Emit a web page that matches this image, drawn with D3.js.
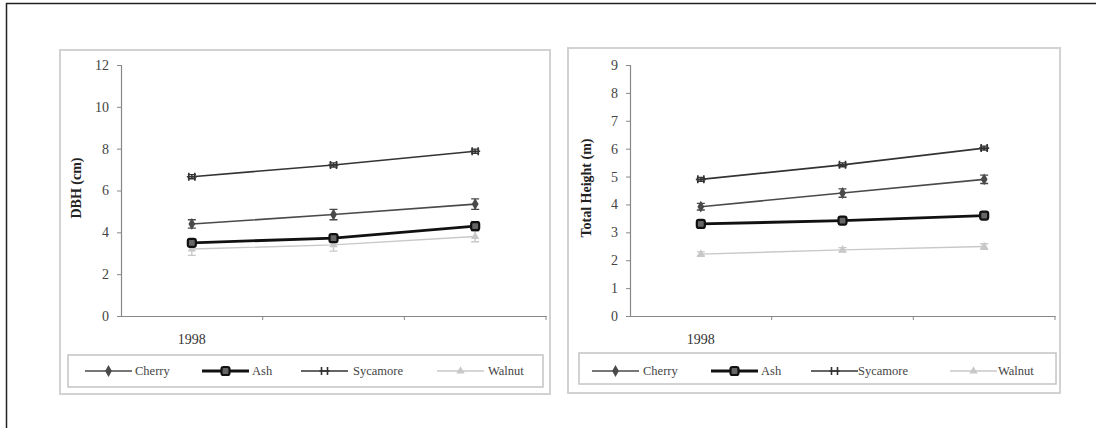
<!DOCTYPE html>
<html><head><meta charset="utf-8">
<script src="https://cdn.jsdelivr.net/npm/d3@7"></script>
<style>body{margin:0;background:#fff}svg{display:block}svg text{font-family:"Liberation Serif","DejaVu Serif",serif}</style>
</head><body><svg id="c" width="1096" height="428"></svg>
<script>
const categories = ["1998", "1999", "2000"];
const tickLabels = ["1998", "", ""];
const species = ["Cherry", "Ash", "Sycamore", "Walnut"];
// DBH (cm)
const dbhCherry = [4.4, 4.85, 5.35];
const dbhAsh = [3.5, 3.72, 4.3];
const dbhSycamore = [6.66, 7.22, 7.88];
const dbhWalnut = [3.2, 3.4, 3.8];
const dbhErrCherry = [0.2, 0.25, 0.25];
const dbhErrAsh = [0.15, 0.15, 0.2];
const dbhErrSycamore = [0.1, 0.1, 0.1];
const dbhErrWalnut = [0.3, 0.3, 0.25];
const dbhTicks = [0, 2, 4, 6, 8, 10, 12];
// Total height (m)
const htCherry = [3.92, 4.41, 4.9];
const htAsh = [3.3, 3.42, 3.6];
const htSycamore = [4.9, 5.42, 6.02];
const htWalnut = [2.22, 2.37, 2.49];
const htErrCherry = [0.12, 0.15, 0.15];
const htErrAsh = [0.08, 0.08, 0.08];
const htErrSycamore = [0.07, 0.07, 0.07];
const htErrWalnut = [0.08, 0.08, 0.1];
const htTicks = [0, 1, 2, 3, 4, 5, 6, 7, 8, 9];

const FONT = '"Liberation Serif", "DejaVu Serif", serif';
const svg = d3.select("#c");
// outer frame
svg.append("path").attr("d","M6.5,428 V3.5 H1096").attr("fill","none").attr("stroke","#222").attr("stroke-width",1.5);

const styles = {
  Cherry:   {color:"#4a4a4a", w:1.6, marker:"diamond"},
  Ash:      {color:"#111",    w:2.8, marker:"square"},
  Sycamore: {color:"#333",    w:1.6, marker:"star"},
  Walnut:   {color:"#c8c8c8", w:1.4, marker:"triangle"}
};

function drawMarker(g, type, x, y, color) {
  if (type === "diamond") {
    g.append("path").attr("d", d3.symbol(d3.symbolDiamond, 40)()).attr("transform",`translate(${x},${y})`).attr("fill",color);
  } else if (type === "square") {
    g.append("rect").attr("x",x-4).attr("y",y-4).attr("width",8).attr("height",8).attr("rx",2)
      .attr("fill","#666").attr("stroke",color).attr("stroke-width",2.2);
  } else if (type === "star") {
    g.append("path").attr("d",`M${x-3},${y-4}V${y+4}M${x+3},${y-4}V${y+4}M${x-5},${y}H${x+5}`)
      .attr("stroke",color).attr("stroke-width",1.6).attr("fill","none");
  } else {
    g.append("path").attr("d", d3.symbol(d3.symbolTriangle, 30)()).attr("transform",`translate(${x},${y})`).attr("fill",color);
  }
}

function panel(cfg) {
  const g = svg.append("g");
  g.append("rect").attr("x",cfg.box[0]).attr("y",cfg.box[1]).attr("width",cfg.box[2]).attr("height",cfg.box[3])
    .attr("fill","#fff").attr("stroke","#d2d2d2").attr("stroke-width",2);
  const x = d3.scaleBand().domain(categories).range([cfg.x0, cfg.x1]);
  const y = d3.scaleLinear().domain([0, cfg.max]).range([316, 65]);
  // y axis
  const ya = g.append("g").attr("transform",`translate(${cfg.x0},0)`)
    .call(d3.axisLeft(y).tickValues(cfg.ticks).tickSize(4).tickPadding(8));
  ya.attr("font-family", FONT).attr("font-size", 14);
  ya.select(".domain").attr("stroke","#888").attr("stroke-width",1.2);
  ya.selectAll(".tick line").attr("stroke","#888");
  ya.selectAll("text").style("font-family",FONT).style("font-size","14px").attr("fill","#444");
  // x axis
  const xa = g.append("g").attr("transform","translate(0,316)")
    .call(d3.axisBottom(x).tickSize(0).tickFormat((d,i)=>tickLabels[i]).tickPadding(18));
  xa.attr("font-family", FONT).attr("font-size", 14);
  xa.select(".domain").attr("stroke","#888").attr("stroke-width",1.2);
  xa.selectAll("text").style("font-family",FONT).style("font-size","14px").attr("fill","#333");
  categories.forEach((c,i)=>{
    const bx = x(c) + x.bandwidth();
    g.append("line").attr("x1",bx).attr("x2",bx).attr("y1",316).attr("y2",320).attr("stroke","#888");
  });
  // y title
  g.append("text").attr("transform",`translate(${cfg.titleX},188) rotate(-90)`).attr("text-anchor","middle")
    .style("font-family",FONT).attr("font-weight","bold").attr("font-size",14).attr("fill","#222").text(cfg.title);
  // series (draw walnut first)
  const order = ["Walnut","Cherry","Sycamore","Ash"];
  const line = d3.line().x((d,i)=>x(categories[i])+x.bandwidth()/2).y(d=>y(d));
  order.forEach(s=>{
    const st = styles[s], vals = cfg.data[s], errs = cfg.err[s];
    g.append("path").datum(vals).attr("d",line).attr("fill","none").attr("stroke",st.color).attr("stroke-width",st.w);
    vals.forEach((v,i)=>{
      const cx = x(categories[i])+x.bandwidth()/2;
      const e = errs[i];
      g.append("path").attr("d",`M${cx},${y(v+e)}V${y(v-e)}M${cx-4},${y(v+e)}H${cx+4}M${cx-4},${y(v-e)}H${cx+4}`)
        .attr("stroke",st.color).attr("stroke-width",1.4).attr("fill","none");
      drawMarker(g, st.marker, cx, y(v), st.color);
    });
  });
  // legend
  const L = cfg.legend;
  g.append("rect").attr("x",L.box[0]).attr("y",L.box[1]).attr("width",L.box[2]).attr("height",L.box[3])
    .attr("fill","#fff").attr("stroke","#c4c4c4").attr("stroke-width",1.5);
  species.forEach((s,i)=>{
    const st = styles[s], lx = L.items[i], ly = 371;
    g.append("line").attr("x1",lx).attr("x2",lx+47).attr("y1",ly).attr("y2",ly).attr("stroke",st.color).attr("stroke-width",st.w);
    drawMarker(g, st.marker, lx+23.5, ly, st.color);
    g.append("text").attr("x",L.text[i]).attr("y",ly+4).style("font-family",FONT).attr("font-size",12.5)
      .attr("fill","#444").text(s);
  });
}

panel({box:[60,50,490,344], x0:121, x1:546, max:12, ticks:dbhTicks, title:"DBH (cm)", titleX:81,
  data:{Cherry:dbhCherry, Ash:dbhAsh, Sycamore:dbhSycamore, Walnut:dbhWalnut},
  err:{Cherry:dbhErrCherry, Ash:dbhErrAsh, Sycamore:dbhErrSycamore, Walnut:dbhErrWalnut},
  legend:{box:[68,355,475,32], items:[85,202,301,437], text:[135,252,353,488]}});
panel({box:[568,48,492,345], x0:630, x1:1055, max:9, ticks:htTicks, title:"Total Height (m)", titleX:591,
  data:{Cherry:htCherry, Ash:htAsh, Sycamore:htSycamore, Walnut:htWalnut},
  err:{Cherry:htErrCherry, Ash:htErrAsh, Sycamore:htErrSycamore, Walnut:htErrWalnut},
  legend:{box:[579,353,477,31], items:[592,711,811,950], text:[643,761,858,998]}});
</script></body></html>
